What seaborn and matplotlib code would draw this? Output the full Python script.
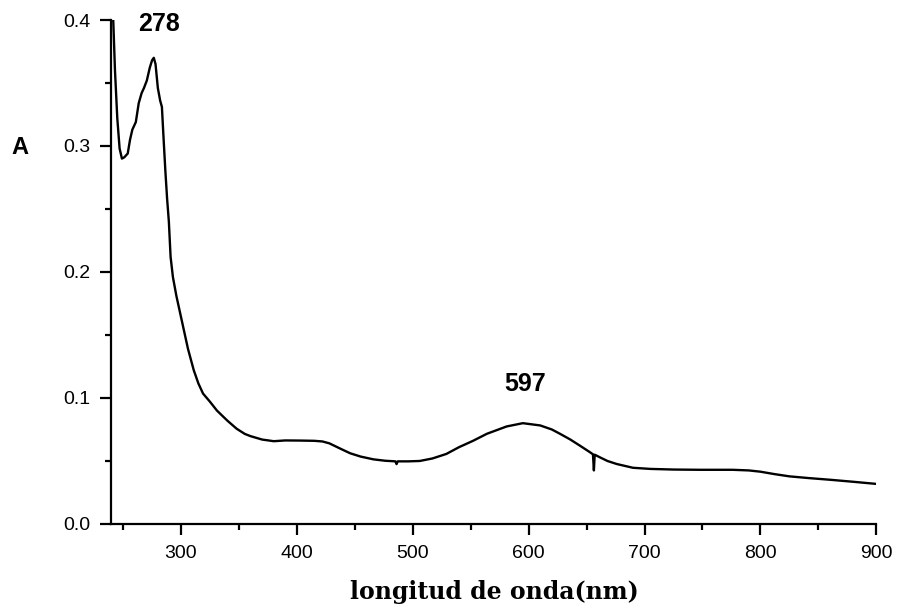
import numpy as np
import pandas as pd
import matplotlib
matplotlib.use("Agg")
import matplotlib.pyplot as plt
from matplotlib.ticker import MultipleLocator
import seaborn as sns

wavelength = [240, 241.5, 243, 245, 247, 249, 251, 254, 256, 258, 261, 263.5, 266, 268,
              270.5, 273, 275, 276.5, 278, 280, 282, 283.5, 285, 286.5, 288, 289.5, 291,
              293, 296, 301, 306, 311, 315, 319, 325, 331, 340, 348, 355, 360, 370, 380,
              390, 403, 415, 422, 428, 437, 446, 455, 466, 476, 485, 486, 487, 496, 506,
              517, 529, 540, 552, 564, 581, 595, 610, 620, 627, 636, 644, 652, 655.5,
              656.3, 657, 661.5, 668, 676, 690, 705, 725, 748, 776, 790, 800, 812, 825,
              842, 860, 880, 900]
absorbance = [0.43, 0.40, 0.36, 0.322, 0.298, 0.290, 0.291, 0.294, 0.305, 0.313, 0.319,
              0.334, 0.342, 0.346, 0.352, 0.362, 0.368, 0.370, 0.365, 0.346, 0.336, 0.331,
              0.305, 0.280, 0.258, 0.240, 0.212, 0.196, 0.181, 0.160, 0.139, 0.122, 0.1115,
              0.1035, 0.097, 0.090, 0.082, 0.0756, 0.0715, 0.0697, 0.067, 0.0657, 0.0663,
              0.0662, 0.0660, 0.0655, 0.0640, 0.060, 0.0561, 0.0535, 0.0513, 0.0502, 0.0497,
              0.0475, 0.0497, 0.0497, 0.0500, 0.0520, 0.0556, 0.0610, 0.0660, 0.0716, 0.0774,
              0.0800, 0.0782, 0.0750, 0.0716, 0.0670, 0.0623, 0.0575, 0.0553, 0.0425, 0.0550,
              0.0529, 0.0500, 0.0476, 0.0446, 0.0437, 0.0432, 0.0430, 0.0430, 0.0425, 0.0415,
              0.0396, 0.0378, 0.0364, 0.0351, 0.0335, 0.0318]

peak_labels = ["278", "597"]
peak_x = [281, 596.6]
peak_y = [0.397, 0.111]

x_ticks = [300, 400, 500, 600, 700, 800, 900]
y_ticks = [0.0, 0.1, 0.2, 0.3, 0.4]

sns.set_style("ticks")
plt.rcParams["font.family"] = ["Liberation Sans", "DejaVu Sans"]
plt.rcParams["text.color"] = "black"
plt.rcParams["xtick.color"] = "black"
plt.rcParams["ytick.color"] = "black"

df = pd.DataFrame({"nm": wavelength, "A": absorbance})

fig = plt.figure(figsize=(8.97, 6.08), dpi=100)
ax = fig.add_axes([0.1243, 0.1382, 0.9769 - 0.1243, 0.9671 - 0.1382])

sns.lineplot(data=df, x="nm", y="A", ax=ax, color="black", linewidth=1.7, sort=False)

ax.set_xlim(240, 900)
ax.set_ylim(0.0, 0.4)
ax.set_xticks(x_ticks)
ax.set_yticks(y_ticks)
ax.set_xticklabels([str(v) for v in x_ticks])
ax.set_yticklabels([f"{v:.1f}" for v in y_ticks])
ax.xaxis.set_minor_locator(MultipleLocator(50))
ax.yaxis.set_minor_locator(MultipleLocator(0.05))

for s in ["top", "right"]:
    ax.spines[s].set_visible(False)
for s in ["left", "bottom"]:
    ax.spines[s].set_linewidth(1.6)
    ax.spines[s].set_color("black")

ax.tick_params(axis="both", which="major", direction="out", length=8, width=1.6,
               labelsize=14, pad=7, colors="black", labelcolor="black")
ax.tick_params(axis="both", which="minor", direction="out", length=4.5, width=1.6,
               colors="black")

ax.set_xlabel("")
ax.set_ylabel("")

fig.text(494 / 897, 1 - 592 / 608, "longitud de onda(nm)", ha="center", va="center",
         fontsize=17, fontweight="bold", family=["DejaVu Serif"], color="black")
fig.text(20 / 897, 1 - 147 / 608, "A", ha="center", va="center",
         fontsize=17, fontweight="bold", color="black")

for lab, px, py in zip(peak_labels, peak_x, peak_y):
    ax.text(px, py, lab, ha="center", va="center", fontsize=18, fontweight="bold",
            clip_on=False, color="black")

fig.savefig("out.png", dpi=100, facecolor="white")
